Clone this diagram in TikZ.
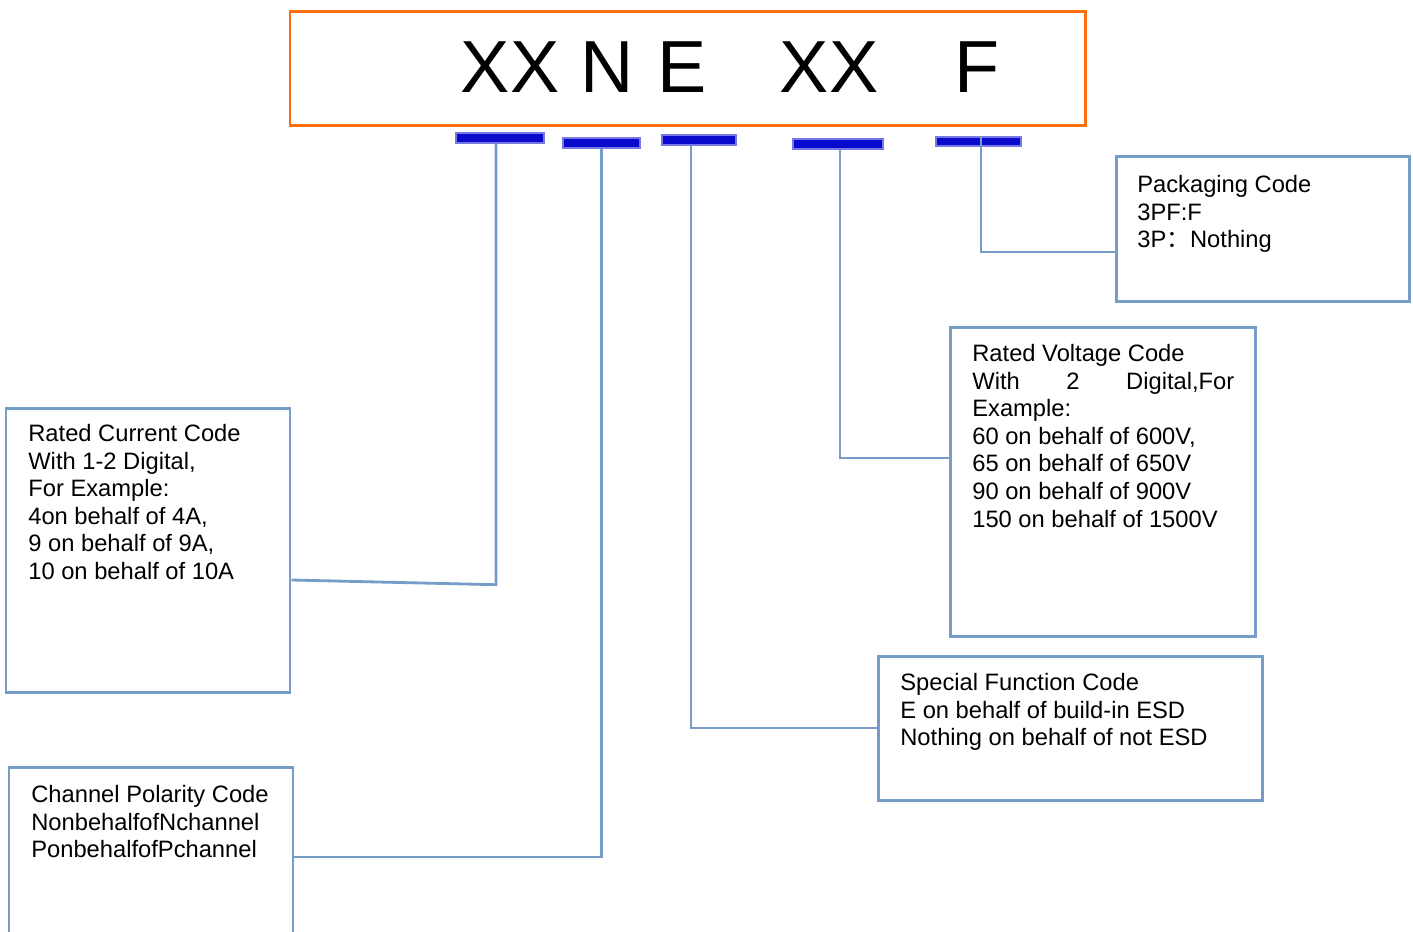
\documentclass[tikz,border=0pt]{standalone}
\usepackage{fontspec}
\setmainfont{Liberation Sans}
\newfontfamily\cjkfont{Noto Sans CJK SC}
\usepackage{tikz}
\usetikzlibrary{fit}
\definecolor{codeorange}{RGB}{250,110,15}
\definecolor{barblue}{RGB}{10,10,205}
\definecolor{linkblue}{RGB}{117,157,200}

\begin{document}
\begin{tikzpicture}[x=0.02cm,y=-0.02cm]
  \tikzset{codebox/.style={draw=linkblue,line width=1.7pt,inner sep=0pt}}
  \tikzset{codebar/.style={fill=barblue,draw=barblue!55,line width=0.8pt,inner sep=0pt}}
  \tikzset{link/.style={draw=linkblue,line width=1.6pt}}
  \tikzset{desc/.style={anchor=north west,inner sep=0pt,align=left,font=\fontsize{13.5pt}{15.7pt}\selectfont}}
  \tikzset{bigchar/.style={anchor=base,inner sep=0pt,font=\fontsize{42pt}{48pt}\selectfont}}
  \useasboundingbox (0,0) rectangle (1413,931);
  \clip (0,0) rectangle (1413,931);
  % part number
  \node[draw=codeorange,line width=1.7pt,inner sep=0pt,fit={(290,11) (1085,125)}] (part) {};
  \node[bigchar] (xx1) at (510,92) {XX};
  \node[bigchar] (nn) at (607,92) {N};
  \node[bigchar] (ee) at (682,92) {E};
  \node[bigchar] (xx2) at (829,92) {XX};
  \node[bigchar] (ff) at (977,92) {F};
  % underlines
  \node[codebar,fit={(456,133) (544,143)}] (b1) {};
  \node[codebar,fit={(563,138) (640,148)}] (b2) {};
  \node[codebar,fit={(662,135) (736,145)}] (b3) {};
  \node[codebar,fit={(793,139) (883,149)}] (b4) {};
  \node[codebar,fit={(936,137) (1021,146)}] (b5) {};
  % description boxes
  \node[codebox,fit={(1116,156) (1409,301)}] (pkg) {};
  \node[codebox,fit={(950,327) (1255,636)}] (rvc) {};
  \node[codebox,fit={(6,408) (290,692)}] (rcc) {};
  \node[codebox,fit={(878,656) (1262,800)}] (sfc) {};
  \node[codebox,fit={(9,767) (293,960)}] (cpc) {};
  \node[desc] (pkgtext) at (1137,175) {Packaging Code\\3PF:F\\3P{\cjkfont ：}Nothing};
  \node[desc] (rvctext) at (972,344) {Rated Voltage Code\\\makebox[5.24cm][s]{With 2 Digital,For}\\Example:\\60 on behalf of 600V,\\65 on behalf of 650V\\90 on behalf of 900V\\150 on behalf of 1500V};
  \node[desc] (rcctext) at (28,424) {Rated Current Code\\With 1-2 Digital,\\For Example:\\4on behalf of 4A,\\9 on behalf of 9A,\\10 on behalf of 10A};
  \node[desc] (sfctext) at (900,673) {Special Function Code\\E on behalf of build-in ESD\\Nothing on behalf of not ESD};
  \node[desc] (cpctext) at (31,785) {Channel Polarity Code\\NonbehalfofNchannel\\PonbehalfofPchannel};
  % connectors
  \draw[link] ([xshift=-0.08cm]b1.south) -- ++(0,441) -- (rcc.east |- 0,580);
  \draw[link] (b2.south) |- (cpc.east |- 0,857);
  \draw[link] ([xshift=-0.16cm]b3.south) |- (sfc.west |- 0,728);
  \draw[link] ([xshift=0.04cm]b4.south) |- (rvc.west |- 0,458);
  \draw[link] ([xshift=0.05cm]b5.north) |- (pkg.west |- 0,252);
\end{tikzpicture}
\end{document}
